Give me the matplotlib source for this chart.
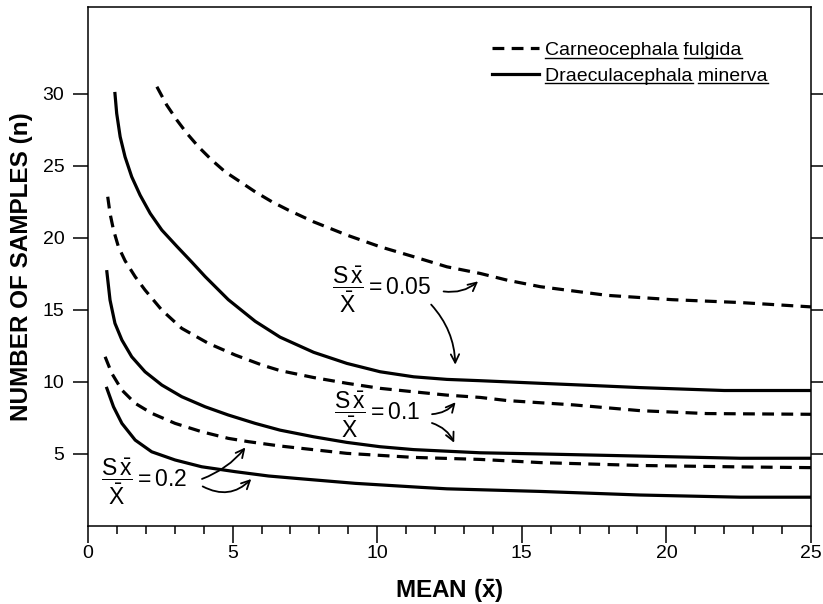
import matplotlib
matplotlib.use("Agg")
import matplotlib.pyplot as plt
from matplotlib.lines import Line2D

plt.rcParams['font.family'] = ['Liberation Sans', 'DejaVu Sans']
plt.rcParams['mathtext.fontset'] = 'custom'
plt.rcParams['mathtext.rm'] = 'Liberation Sans'
plt.rcParams['mathtext.it'] = 'Liberation Sans:italic'
plt.rcParams['mathtext.bf'] = 'Liberation Sans:bold'

# Carneocephala fulgida (dashed)
cf_05_x = [2.38, 2.72, 3.07, 3.42, 3.82, 4.28, 4.74, 5.26, 5.78, 6.36, 6.93, 7.8, 8.95, 10.1, 11.26,
           12.41, 13.56, 14.5, 15.64, 17.95, 20.2, 22.56, 25.0]
cf_05_y = [30.47, 29.2, 28.16, 27.23, 26.3, 25.38, 24.57, 23.88, 23.18, 22.49, 21.91, 21.1, 20.18,
           19.37, 18.68, 17.98, 17.52, 17.05, 16.6, 16.0, 15.7, 15.5, 15.2]
cf_10_x = [0.68, 0.76, 0.88, 1.05, 1.28, 1.63, 1.97, 2.55, 3.24, 4.16, 5.09, 6.01, 6.64, 7.8, 8.95,
           10.1, 11.26, 12.41, 13.56, 14.5, 16.8, 19.1, 21.4, 25.0]
cf_10_y = [22.84, 21.68, 20.53, 19.37, 18.4, 17.29, 16.37, 14.98, 13.71, 12.67, 11.86, 11.17, 10.78,
           10.3, 9.9, 9.55, 9.31, 9.08, 8.92, 8.7, 8.4, 8.0, 7.8, 7.75]
cf_20_x = [0.59, 0.82, 1.17, 1.63, 2.2, 3.01, 3.93, 4.85, 5.55, 6.64, 8.95, 11.26, 13.56, 15.64,
           19.1, 22.56, 25.0]
cf_20_y = [11.74, 10.59, 9.43, 8.51, 7.82, 7.12, 6.54, 6.08, 5.85, 5.55, 5.04, 4.76, 4.62, 4.4,
           4.2, 4.1, 4.05]

# Draeculacephala minerva (solid)
dm_05_x = [0.93, 0.99, 1.11, 1.28, 1.51, 1.8, 2.15, 2.55, 3.07, 3.59, 4.05, 4.85, 5.78, 6.64, 7.8,
           8.95, 10.1, 11.26, 12.41, 13.56, 15.64, 17.4, 19.1, 22.0, 25.0]
dm_05_y = [30.0, 28.62, 27.0, 25.6, 24.22, 22.95, 21.68, 20.53, 19.4, 18.3, 17.3, 15.7, 14.2,
           13.1, 12.05, 11.28, 10.7, 10.35, 10.17, 10.08, 9.9, 9.75, 9.6, 9.4, 9.4]
dm_10_x = [0.65, 0.76, 0.93, 1.17, 1.51, 1.97, 2.55, 3.24, 4.05, 4.85, 5.78, 6.64, 7.8, 8.95, 10.1,
           11.26, 13.56, 15.64, 19.1, 22.56, 25.0]
dm_10_y = [17.64, 15.67, 14.06, 12.9, 11.74, 10.7, 9.78, 8.97, 8.27, 7.7, 7.12, 6.65, 6.19, 5.8,
           5.5, 5.3, 5.08, 5.0, 4.85, 4.7, 4.7]
dm_20_x = [0.65, 0.88, 1.17, 1.63, 2.2, 3.01, 3.93, 5.09, 6.24, 7.16, 9.24, 11.53, 12.41, 15.64,
           19.1, 22.56, 25.0]
dm_20_y = [9.55, 8.27, 7.12, 5.96, 5.15, 4.58, 4.11, 3.77, 3.47, 3.31, 2.96, 2.68, 2.58, 2.4,
           2.15, 2.0, 2.0]

x_ticks = [0, 5, 10, 15, 20, 25]
y_ticks = [5, 10, 15, 20, 25, 30]

fig = plt.figure(figsize=(8.23, 6.04), dpi=100)
ax = fig.add_axes([0.107, 0.1291, 0.8784, 0.8593])

lw = 2.3
dash = (3.7, 2.3)
ax.plot(cf_05_x, cf_05_y, color='black', lw=lw, dashes=dash, label='Carneocephala fulgida')
ax.plot(cf_10_x, cf_10_y, color='black', lw=lw, dashes=dash)
ax.plot(cf_20_x, cf_20_y, color='black', lw=lw, dashes=dash)
ax.plot(dm_05_x, dm_05_y, color='black', lw=lw, label='Draeculacephala minerva')
ax.plot(dm_10_x, dm_10_y, color='black', lw=lw)
ax.plot(dm_20_x, dm_20_y, color='black', lw=lw)

ax.set_xlim(0, 25)
ax.set_ylim(0, 36)
ax.set_xticks(x_ticks)
ax.set_xticks(range(0, 26), minor=True)
ax.set_yticks(y_ticks)
ax.tick_params(axis='x', which='major', direction='out', length=12, width=1.1, labelsize=14, pad=2)
ax.tick_params(axis='x', which='minor', direction='out', length=6, width=1.1)
ax.tick_params(axis='y', which='major', direction='out', length=11, width=1.1, labelsize=14, pad=6,
               right=True)
for sp in ax.spines.values():
    sp.set_linewidth(1.1)

ax.set_xlabel(r'MEAN ($\mathbf{\bar{x}}$)', fontsize=17.5, fontweight='bold', labelpad=11)
ax.set_ylabel('NUMBER OF SAMPLES (n)', fontsize=17.5, fontweight='bold', labelpad=7)

# precision labels and arrows
frac = r'$\dfrac{\mathrm{S}\,\bar{\mathrm{x}}}{\bar{\mathrm{X}}} = %s$'
arrow = dict(arrowstyle='->,head_length=0.6,head_width=0.3', color='black', lw=1.3)

ax.text(8.45, 16.4, frac % '0.05', fontsize=16.5, ha='left', va='center')
ax.annotate('', xy=(13.56, 17.1), xytext=(12.2, 16.3),
            arrowprops=dict(arrow, connectionstyle='arc3,rad=0.25'))
ax.annotate('', xy=(12.7, 11.0), xytext=(11.8, 15.5),
            arrowprops=dict(arrow, connectionstyle='arc3,rad=-0.2'))

ax.text(8.5, 7.7, frac % '0.1', fontsize=16.5, ha='left', va='center')
ax.annotate('', xy=(12.77, 8.74), xytext=(11.8, 7.75),
            arrowprops=dict(arrow, connectionstyle='arc3,rad=0.25'))
ax.annotate('', xy=(12.7, 5.6), xytext=(11.8, 7.2),
            arrowprops=dict(arrow, connectionstyle='arc3,rad=-0.25'))

ax.text(0.45, 3.05, frac % '0.2', fontsize=16.5, ha='left', va='center')
ax.annotate('', xy=(5.5, 5.6), xytext=(3.85, 3.2),
            arrowprops=dict(arrow, connectionstyle='arc3,rad=0.15'))
ax.annotate('', xy=(5.71, 3.4), xytext=(3.88, 2.84),
            arrowprops=dict(arrow, connectionstyle='arc3,rad=0.4'))

leg = ax.legend(loc='upper left', bbox_to_anchor=(0.545, 0.952), frameon=False, fontsize=14,
                borderpad=0, handlelength=2.45, handletextpad=0.3, labelspacing=0.4)

# underline each word of the species names
fig.canvas.draw()
renderer = fig.canvas.get_renderer()
inv = fig.transFigure.inverted()
for txt in leg.get_texts():
    s = txt.get_text()
    prop = txt.get_fontproperties()
    bb = txt.get_window_extent(renderer)
    _, _, d = renderer.get_text_width_height_descent(s, prop, ismath=False)
    base = bb.y0 + d - 2.5
    start = 0
    for word in s.split(' '):
        i = s.index(word, start)
        end = i + len(word)
        w_end = renderer.get_text_width_height_descent(s[:end], prop, ismath=False)[0]
        w_word = renderer.get_text_width_height_descent(word, prop, ismath=False)[0]
        p0 = inv.transform((bb.x0 + w_end - w_word, base))
        p1 = inv.transform((bb.x0 + w_end, base))
        fig.add_artist(Line2D([p0[0], p1[0]], [p0[1], p1[1]], color='black', lw=1.0,
                              transform=fig.transFigure))
        start = end

fig.savefig('out.png', dpi=100)
